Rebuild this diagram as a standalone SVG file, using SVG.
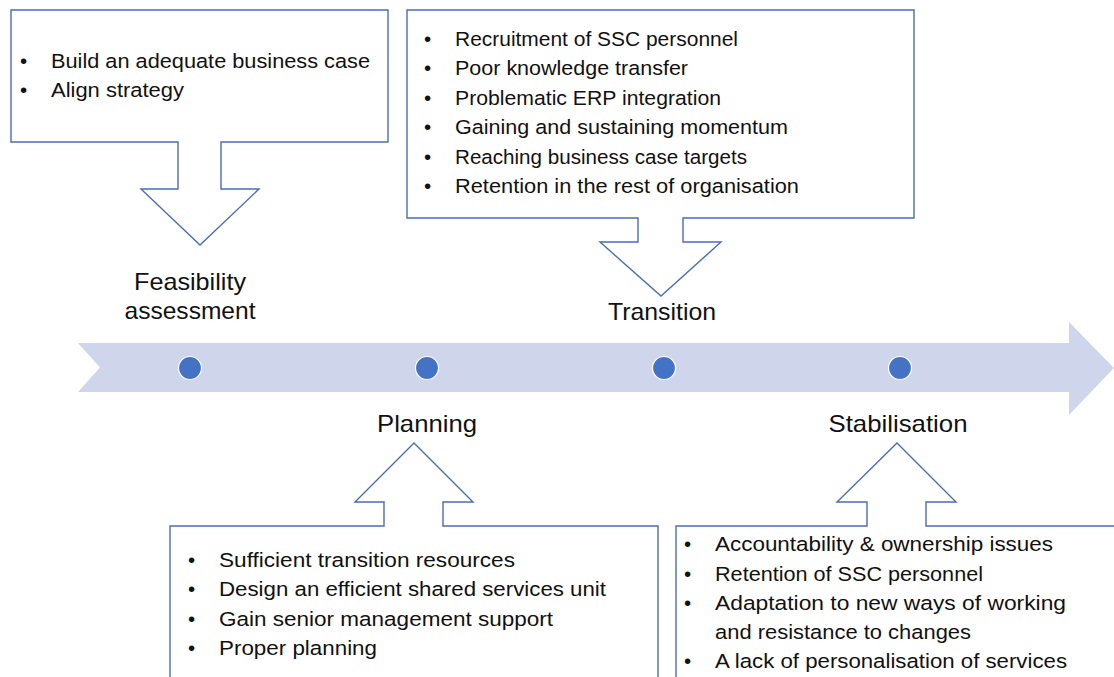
<svg xmlns="http://www.w3.org/2000/svg" width="1114" height="677" viewBox="0 0 1114 677">
  <style>
    .callout { fill: #ffffff; stroke: #4a6db3; stroke-width: 1.4; stroke-linejoin: miter; }
    .item { font-family: "Liberation Sans", Arial, sans-serif; font-size: 20.5px; fill: #111111; }
    .bullet { font-family: "Liberation Sans", Arial, sans-serif; font-size: 20.5px; fill: #111111; }
    .phase { font-family: "Liberation Sans", Arial, sans-serif; font-size: 24px; fill: #111111; text-anchor: middle; }
    .dot { fill: #4472c4; stroke: #ffffff; stroke-width: 1.2; }
  </style>

  <!-- timeline band -->
  <g id="timeline">
    <path d="M78,343 L1069,343 L1069,322 L1114,368 L1069,415 L1069,392 L78,392 L100,367.5 Z" fill="#cfd5ea"/>
    <circle class="dot" cx="190" cy="368" r="11.5"/>
    <circle class="dot" cx="427" cy="368" r="11.5"/>
    <circle class="dot" cx="664" cy="368" r="11.5"/>
    <circle class="dot" cx="900" cy="368" r="11.5"/>
  </g>

  <!-- phase labels -->
  <g id="labels">
    <text class="phase" x="190" y="290" textLength="112" lengthAdjust="spacingAndGlyphs">Feasibility</text>
    <text class="phase" x="190" y="319" textLength="131" lengthAdjust="spacingAndGlyphs">assessment</text>
    <text class="phase" x="662" y="320" textLength="108" lengthAdjust="spacingAndGlyphs">Transition</text>
    <text class="phase" x="427" y="432" textLength="100" lengthAdjust="spacingAndGlyphs">Planning</text>
    <text class="phase" x="898" y="432" textLength="139" lengthAdjust="spacingAndGlyphs">Stabilisation</text>
  </g>

  <!-- feasibility callout -->
  <g id="feasibility">
    <path class="callout" d="M11,10 L388,10 L388,142 L221,142 L221,189 L259,189 L200,245 L141,189 L178,189 L178,142 L11,142 Z"/>
    <text class="bullet" x="20" y="68">•</text>
    <text class="item" x="51" y="68" textLength="319" lengthAdjust="spacingAndGlyphs">Build an adequate business case</text>
    <text class="bullet" x="20" y="97">•</text>
    <text class="item" x="51" y="97" textLength="133" lengthAdjust="spacingAndGlyphs">Align strategy</text>
  </g>

  <!-- transition callout -->
  <g id="transition">
    <path class="callout" d="M407,10 L914,10 L914,218 L683,218 L683,242 L721,242 L661,296 L600,242 L638,242 L638,218 L407,218 Z"/>
    <g class="bullet">
      <text x="424" y="46">•</text>
      <text x="424" y="75">•</text>
      <text x="424" y="105">•</text>
      <text x="424" y="134">•</text>
      <text x="424" y="164">•</text>
      <text x="424" y="193">•</text>
    </g>
    <text class="item" x="455" y="46" textLength="283" lengthAdjust="spacingAndGlyphs">Recruitment of SSC personnel</text>
    <text class="item" x="455" y="75" textLength="233" lengthAdjust="spacingAndGlyphs">Poor knowledge transfer</text>
    <text class="item" x="455" y="105" textLength="266" lengthAdjust="spacingAndGlyphs">Problematic ERP integration</text>
    <text class="item" x="455" y="134" textLength="333" lengthAdjust="spacingAndGlyphs">Gaining and sustaining momentum</text>
    <text class="item" x="455" y="164" textLength="292" lengthAdjust="spacingAndGlyphs">Reaching business case targets</text>
    <text class="item" x="455" y="193" textLength="344" lengthAdjust="spacingAndGlyphs">Retention in the rest of organisation</text>
  </g>

  <!-- planning callout -->
  <g id="planning">
    <path class="callout" d="M170,690 L170,526 L384,526 L384,502 L355,502 L414,443 L473,502 L443,502 L443,526 L658,526 L658,690"/>
    <g class="bullet">
      <text x="188" y="567">•</text>
      <text x="188" y="596">•</text>
      <text x="188" y="626">•</text>
      <text x="188" y="655">•</text>
    </g>
    <text class="item" x="219" y="567" textLength="296" lengthAdjust="spacingAndGlyphs">Sufficient transition resources</text>
    <text class="item" x="219" y="596" textLength="387" lengthAdjust="spacingAndGlyphs">Design an efficient shared services unit</text>
    <text class="item" x="219" y="626" textLength="334" lengthAdjust="spacingAndGlyphs">Gain senior management support</text>
    <text class="item" x="219" y="655" textLength="158" lengthAdjust="spacingAndGlyphs">Proper planning</text>
  </g>

  <!-- stabilisation callout -->
  <g id="stabilisation">
    <path class="callout" d="M676,690 L676,526 L867,526 L867,502 L837,502 L897,443 L956,502 L926,502 L926,526 L1120,526"/>
    <g class="bullet">
      <text x="684" y="551">•</text>
      <text x="684" y="581">•</text>
      <text x="684" y="610">•</text>
      <text x="684" y="668">•</text>
    </g>
    <text class="item" x="715" y="551" textLength="338" lengthAdjust="spacingAndGlyphs">Accountability &amp; ownership issues</text>
    <text class="item" x="715" y="581" textLength="268" lengthAdjust="spacingAndGlyphs">Retention of SSC personnel</text>
    <text class="item" x="715" y="610" textLength="351" lengthAdjust="spacingAndGlyphs">Adaptation to new ways of working</text>
    <text class="item" x="715" y="639" textLength="256" lengthAdjust="spacingAndGlyphs">and resistance to changes</text>
    <text class="item" x="715" y="668" textLength="352" lengthAdjust="spacingAndGlyphs">A lack of personalisation of services</text>
  </g>
</svg>
